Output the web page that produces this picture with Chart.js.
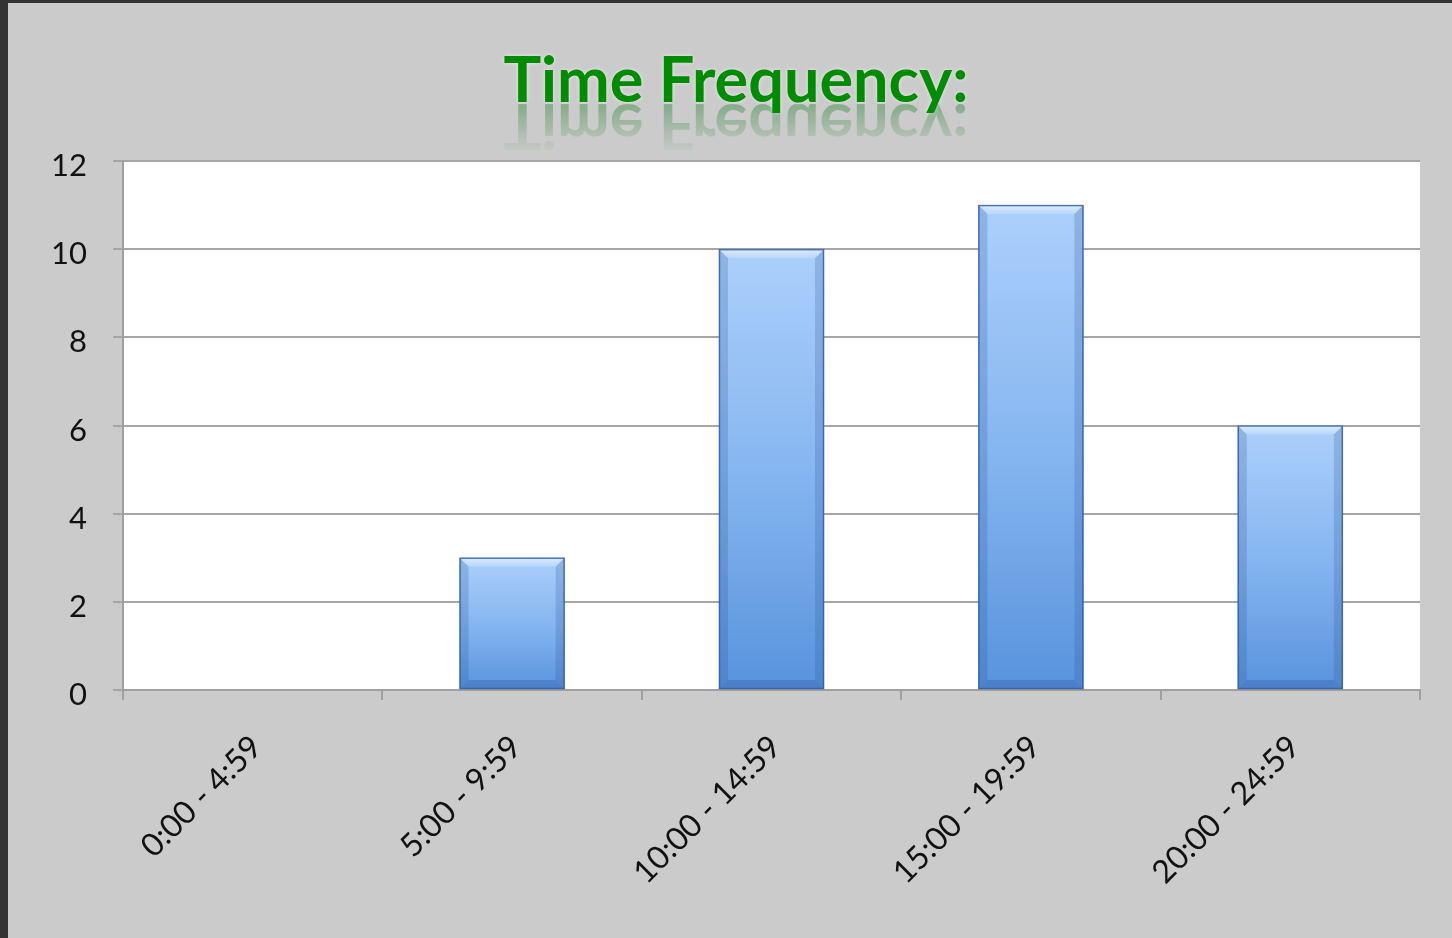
<!DOCTYPE html>
<html>
<head>
<meta charset="utf-8">
<script src="https://cdn.jsdelivr.net/npm/chart.js@4.4.1/dist/chart.umd.min.js"></script>
<style>
  html, body { margin: 0; padding: 0; background: #333; }
  #wrap { width: 1452px; height: 938px; position: relative; }
  canvas { display: block; }
</style>
</head>
<body>
<div id="wrap"><canvas id="c" width="1452" height="938"></canvas></div>
<script>
const titleText = 'Time Frequency:';
const categories = ['0:00 - 4:59', '5:00 - 9:59', '10:00 - 14:59', '15:00 - 19:59', '20:00 - 24:59'];
const frequencies = [0, 3, 10, 11, 6];
const yTicks = [0, 2, 4, 6, 8, 10, 12];

const FONT = 'Lato, "Open Sans", "DejaVu Sans", sans-serif';

const backgroundPlugin = {
  id: 'bg',
  beforeDraw(chart) {
    const ctx = chart.ctx;
    ctx.save();
    ctx.fillStyle = '#333333';
    ctx.fillRect(0, 0, chart.width, chart.height);
    ctx.fillStyle = '#cbcbcb';
    ctx.fillRect(8, 3, chart.width - 8, chart.height - 3);
    const a = chart.chartArea;
    ctx.fillStyle = '#ffffff';
    ctx.fillRect(a.left, a.top, a.right - a.left, a.bottom - a.top);
    ctx.restore();
  }
};

const titlePlugin = {
  id: 'reflectTitle',
  afterDraw(chart) {
    const ctx = chart.ctx;
    const cx = 736, baseline = 102;
    ctx.save();
    ctx.font = 'bold 63px ' + FONT;
    ctx.textAlign = 'center';
    ctx.textBaseline = 'alphabetic';
    const off = document.createElement('canvas');
    off.width = 700; off.height = 80;
    const o = off.getContext('2d');
    o.font = ctx.font;
    o.textAlign = 'center';
    o.textBaseline = 'alphabetic';
    o.save();
    o.translate(350, 0);
    o.scale(1, -1);
    o.fillStyle = 'rgba(60,140,70,0.55)';
    o.fillText(titleText, 0, 0);
    o.restore();
    o.globalCompositeOperation = 'destination-in';
    const g = o.createLinearGradient(0, 0, 0, 50);
    g.addColorStop(0, 'rgba(0,0,0,0.9)');
    g.addColorStop(1, 'rgba(0,0,0,0)');
    o.fillStyle = g;
    o.fillRect(0, 0, 700, 80);
    ctx.drawImage(off, cx - 350, baseline + 2);
    ctx.shadowColor = 'rgba(255,255,255,0.6)';
    ctx.shadowBlur = 4;
    ctx.fillStyle = '#008c00';
    ctx.fillText(titleText, cx, baseline);
    ctx.restore();
  }
};

const bevelPlugin = {
  id: 'bevel',
  afterDatasetsDraw(chart) {
    const ctx = chart.ctx;
    const meta = chart.getDatasetMeta(0);
    ctx.save();
    meta.data.forEach((bar) => {
      const h = bar.base - bar.y;
      if (h <= 1) return;
      const l = bar.x - bar.width / 2, r = bar.x + bar.width / 2;
      const t = bar.y, b = bar.base;
      const bv = Math.min(9, h / 3);
      const gt = ctx.createLinearGradient(0, t, 0, t + bv);
      gt.addColorStop(0, 'rgba(255,255,255,0.6)');
      gt.addColorStop(1, 'rgba(255,255,255,0.15)');
      ctx.fillStyle = gt;
      ctx.beginPath();
      ctx.moveTo(l, t); ctx.lineTo(r, t); ctx.lineTo(r - bv, t + bv); ctx.lineTo(l + bv, t + bv); ctx.closePath();
      ctx.fill();
      ctx.fillStyle = 'rgba(40,80,150,0.22)';
      ctx.beginPath();
      ctx.moveTo(l, t); ctx.lineTo(l + bv, t + bv); ctx.lineTo(l + bv, b - bv); ctx.lineTo(l, b); ctx.closePath();
      ctx.fill();
      ctx.beginPath();
      ctx.moveTo(r, t); ctx.lineTo(r - bv, t + bv); ctx.lineTo(r - bv, b - bv); ctx.lineTo(r, b); ctx.closePath();
      ctx.fill();
      ctx.fillStyle = 'rgba(40,80,150,0.28)';
      ctx.beginPath();
      ctx.moveTo(l, b); ctx.lineTo(l + bv, b - bv); ctx.lineTo(r - bv, b - bv); ctx.lineTo(r, b); ctx.closePath();
      ctx.fill();
      ctx.strokeStyle = 'rgba(50,95,165,0.85)';
      ctx.lineWidth = 1.5;
      ctx.strokeRect(l + 0.5, t + 0.5, r - l - 1, b - t - 1);
    });
    ctx.restore();
  }
};

function barGradient(context) {
  const chart = context.chart;
  if (!chart.chartArea || context.type !== 'data') return '#7fb2ee';
  const yScale = chart.scales.y;
  const top = yScale.getPixelForValue(context.raw);
  const base = yScale.getPixelForValue(0);
  if (!isFinite(top) || base - top < 1) return '#7fb2ee';
  const g = chart.ctx.createLinearGradient(0, top, 0, base);
  g.addColorStop(0, '#acd0fb');
  g.addColorStop(0.5, '#86b6f0');
  g.addColorStop(1, '#5893dc');
  return g;
}

new Chart(document.getElementById('c'), {
  type: 'bar',
  data: {
    labels: categories,
    datasets: [{
      label: 'Frequency',
      data: frequencies,
      backgroundColor: barGradient,
      borderWidth: 0,
      barPercentage: 0.405,
      categoryPercentage: 1.0
    }]
  },
  options: {
    responsive: false,
    animation: false,
    devicePixelRatio: 1,
    layout: { padding: { top: 161, right: 32, left: 0, bottom: 0 } },
    plugins: {
      legend: { display: false },
      title: { display: false },
      tooltip: { enabled: false }
    },
    scales: {
      x: {
        offset: true,
        grid: {
          offset: true,
          drawOnChartArea: false,
          drawTicks: true,
          tickLength: 10,
          color: '#a0a0a0',
          lineWidth: 2
        },
        border: { display: true, color: '#a0a0a0', width: 2 },
        ticks: {
          color: '#111',
          font: { family: FONT, size: 32 },
          minRotation: 45,
          maxRotation: 45,
          padding: 28,
          labelOffset: 4,
          autoSkip: false
        },
        afterFit(scale) { scale.height = 248; }
      },
      y: {
        min: 0,
        max: 12,
        afterBuildTicks(scale) { scale.ticks = yTicks.map(v => ({ value: v })); },
        grid: {
          color: '#a6a6a6',
          lineWidth: 2,
          drawTicks: true,
          tickLength: 10
        },
        border: { display: true, color: '#a0a0a0', width: 2 },
        ticks: {
          color: '#111',
          font: { family: FONT, size: 31 },
          padding: 26,
          labelOffset: 5
        },
        afterFit(scale) { scale.width = 123; }
      }
    }
  },
  plugins: [backgroundPlugin, bevelPlugin, titlePlugin]
});
</script>
</body>
</html>
